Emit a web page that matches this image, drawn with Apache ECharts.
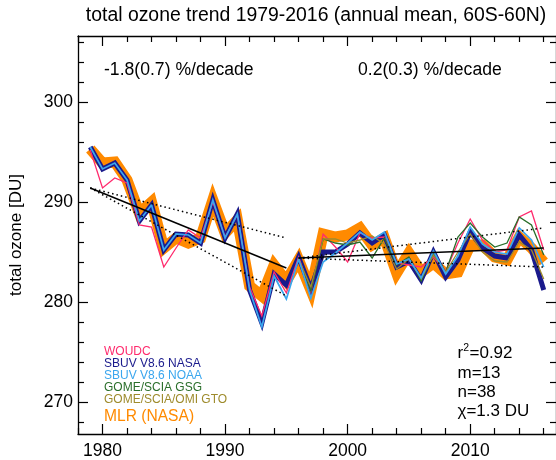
<!DOCTYPE html>
<html>
<head>
<meta charset="utf-8">
<script src="https://cdn.jsdelivr.net/npm/echarts@6/dist/echarts.min.js"></script>
<style>html,body{margin:0;padding:0;background:#fff;}#c{width:556px;height:460px;}</style>
</head>
<body>
<div id="c"></div>
<script>
const years = [1979,1980,1981,1982,1983,1984,1985,1986,1987,1988,1989,1990,1991,1992,1993,1994,1995,1996,1997,1998,1999,2000,2001,2002,2003,2004,2005,2006,2007,2008,2009,2010,2011,2012,2013,2014,2015,2016];
const woudc    = [295.2,291.4,292.4,291.9,287.7,287.5,283.5,285.4,287.2,286.4,290.0,286.5,288.7,281.5,278.6,283.0,280.9,284.5,281.0,286.8,285.5,284.0,286.9,286.4,286.5,283.9,283.7,283.5,284.5,283.1,285.9,288.3,286.2,285.0,285.2,288.5,289.1,285.2];
const sbuvNasa = [295.5,293.3,293.9,292.2,288.1,289.7,285.2,286.8,286.7,285.9,290.2,286.4,288.8,281.2,277.9,282.8,281.7,284.5,281.3,285.0,285.0,285.8,286.9,285.9,286.7,283.5,284.1,282.2,285.0,282.5,284.2,287.0,285.4,284.6,284.4,286.7,285.2,281.2];
const sbuvNoaa = [295.5,293.3,293.9,292.2,288.1,289.7,285.2,286.8,286.7,285.9,290.2,286.4,288.8,281.2,277.5,282.6,280.3,284.3,280.4,284.0,284.9,285.9,287.0,286.2,287.0,283.8,284.3,282.4,285.1,282.8,284.6,287.5,285.8,285.0,284.8,287.4,286.2,283.5];
const mlrNasa  = [295.3,293.9,294.0,292.2,288.9,290.0,285.4,286.4,285.9,286.4,290.2,286.9,288.2,281.6,280.6,283.7,282.1,284.2,281.2,286.8,286.5,286.7,287.4,285.7,286.4,282.9,284.9,283.0,283.9,282.8,283.0,285.7,285.7,284.5,284.2,286.5,285.4,284.0];
const gomeYears = [1996,1997,1998,1999,2000,2001,2002,2003,2004,2005,2006,2007,2008,2009,2010,2011,2012,2013,2014,2015,2016];
const gomeGsg  = [284.2,281.1,286.3,285.9,285.7,286.0,284.4,286.4,283.7,284.5,282.1,284.9,283.0,286.5,287.9,286.5,285.5,285.9,288.5,287.7,284.7];
const gomeGto  = [284.3,281.5,286.3,286.3,285.9,286.2,286.6,285.8,283.3,284.3,282.3,284.7,283.0,285.0,286.8,285.0,284.1,284.0,286.0,285.2,282.3];
const trend1Years = [1979,1995];
const trend1Fit = [291.4,283.4];
const trend1Hi  = [291.4,286.4];
const trend1Lo  = [291.4,280.6];
const trend2Years = [1996,2016];
const trend2Fit = [284.4,285.4];
const trend2Hi  = [284.4,287.4];
const trend2Lo  = [284.4,283.5];
const xLabels = [1980,1990,2000,2010];
const xMinor = [1978,1982,1984,1986,1988,1992,1994,1996,1998,2002,2004,2006,2008,2012,2014,2016];
const yLabels = [270,280,290,300];
const yMinor = [268,272,274,276,278,282,284,286,288,292,294,296,298,302,304,306];
const legendNames = ['WOUDC','SBUV V8.6 NASA','SBUV V8.6 NOAA','GOME/SCIA GSG','GOME/SCIA/OMI GTO','MLR (NASA)'];
const statLines = ['m=13','n=38','\u03c7=1.3 DU'];

const FONT = '"Liberation Sans", Arial, Helvetica, sans-serif';
const C = {woudc:'#ff2a6d', nasa:'#1a1a8c', noaa:'#3aa6ee', gsg:'#2a6e2a', gto:'#9e8b2c', mlr:'#ff8a00'};

function pairs(xs, ys){ return xs.map((x,i)=>[x, ys[i]]); }

const XMIN=1978, XMAX=2017, YMIN=266.8, YMAX=306.6;
function xAxisDef(pos, ticks, len, showLine, showLabel){
  return {type:'value', min:XMIN, max:XMAX, position:pos, gridIndex:0,
    splitLine:{show:false},
    axisLine:{show:showLine, onZero:false, lineStyle:{color:'#000', width:1.3}},
    axisTick:{show:true, inside:true, length:len, customValues:ticks, lineStyle:{color:'#000', width:1.2}},
    axisLabel:{show:showLabel, customValues:xLabels, margin:8, color:'#000', fontSize:17.5, fontFamily:FONT,
      formatter:function(v){ return String(Math.round(v)); }}};
}
function yAxisDef(pos, ticks, len, showLine, showLabel){
  return {type:'value', min:YMIN, max:YMAX, position:pos, gridIndex:0,
    splitLine:{show:false},
    axisLine:{show:showLine, onZero:false, lineStyle:{color:'#000', width:1.3}},
    axisTick:{show:true, inside:true, length:len, customValues:ticks, lineStyle:{color:'#000', width:1.2}},
    axisLabel:{show:showLabel, customValues:yLabels, margin:5, color:'#000', fontSize:17.5, fontFamily:FONT,
      formatter:function(v){ return String(Math.round(v)); }},
    name: showLabel ? 'total ozone [DU]' : '', nameLocation:'middle', nameGap:53,
    nameTextStyle:{color:'#000', fontSize:17, fontFamily:FONT}};
}

function line(name, xs, ys, color, width, z, extra){
  return Object.assign({type:'line', name:name, data:pairs(xs, ys), xAxisIndex:0, yAxisIndex:0,
    showSymbol:false, symbol:'none', z:z, silent:true, connectNulls:false,
    lineStyle:{color:color, width:width, join:'miter', miterLimit:4}}, extra||{});
}

const texts = [];
function txt(x, y, s, color, size, align){
  texts.push({type:'text', x:x, y:y, silent:true, style:{text:s, fill:color, font:'normal '+size+'px '+FONT, textAlign:align||'left', textVerticalAlign:'middle'}});
}
txt(316, 16, 'total ozone trend 1979-2016 (annual mean, 60S-60N)', '#000', 19.4, 'center');
txt(104, 70, '-1.8(0.7) %/decade', '#000', 17.6);
txt(358, 70, '0.2(0.3) %/decade', '#000', 17.6);
const legColors = [C.woudc, C.nasa, C.noaa, C.gsg, C.gto, C.mlr];
const legY = [352, 364, 376, 388, 400, 417];
legendNames.forEach((n,i)=> txt(104, legY[i], n, legColors[i], i===5 ? 15.6 : 12));
txt(457.5, 353.5, 'r', '#000', 17);
txt(463.3, 348.5, '2', '#000', 10.5);
txt(469.5, 353.5, '=0.92', '#000', 17);
const statY = [373, 392, 411.5];
statLines.forEach((s,i)=> txt(457.5, statY[i], s, '#000', 17));

const DOT = {color:'#000', width:1.5, type:[1.5,3]};
const chart = echarts.init(document.getElementById('c'), null, {renderer:'canvas'});
chart.setOption({
  animation:false,
  backgroundColor:'#fff',
  grid:{left:73, top:36, width:484, height:399, containLabel:false},
  xAxis:[
    xAxisDef('bottom', xLabels, 10, true, true),
    xAxisDef('bottom', xMinor, 6, false, false),
    xAxisDef('top', xLabels, 10, true, false),
    xAxisDef('top', xMinor, 6, false, false)
  ],
  yAxis:[
    yAxisDef('left', yLabels, 10, true, true),
    yAxisDef('left', yMinor, 6, false, false),
    yAxisDef('right', yLabels, 10, true, false),
    yAxisDef('right', yMinor, 6, false, false)
  ],
  series:[
    line('MLR (NASA)', years, mlrNasa, C.mlr, 11, 1),
    line('SBUV V8.6 NASA', years, sbuvNasa, C.nasa, 5, 2),
    line('WOUDC', years, woudc, C.woudc, 1.3, 3),
    line('GOME/SCIA GSG', gomeYears, gomeGsg, C.gsg, 1.3, 3),
    line('GOME/SCIA/OMI GTO', gomeYears, gomeGto, C.gto, 1.3, 3),
    line('SBUV V8.6 NOAA', years, sbuvNoaa, C.noaa, 1.7, 3),
    line('trend 1', trend1Years, trend1Fit, '#000', 1.5, 5),
    line('trend 1 hi', trend1Years, trend1Hi, '#000', 1.5, 5, {lineStyle:DOT}),
    line('trend 1 lo', trend1Years, trend1Lo, '#000', 1.5, 5, {lineStyle:DOT}),
    line('trend 2', trend2Years, trend2Fit, '#000', 1.5, 5),
    line('trend 2 hi', trend2Years, trend2Hi, '#000', 1.5, 5, {lineStyle:DOT}),
    line('trend 2 lo', trend2Years, trend2Lo, '#000', 1.5, 5, {lineStyle:DOT})
  ],
  graphic:{elements:texts}
});
</script>
</body>
</html>
